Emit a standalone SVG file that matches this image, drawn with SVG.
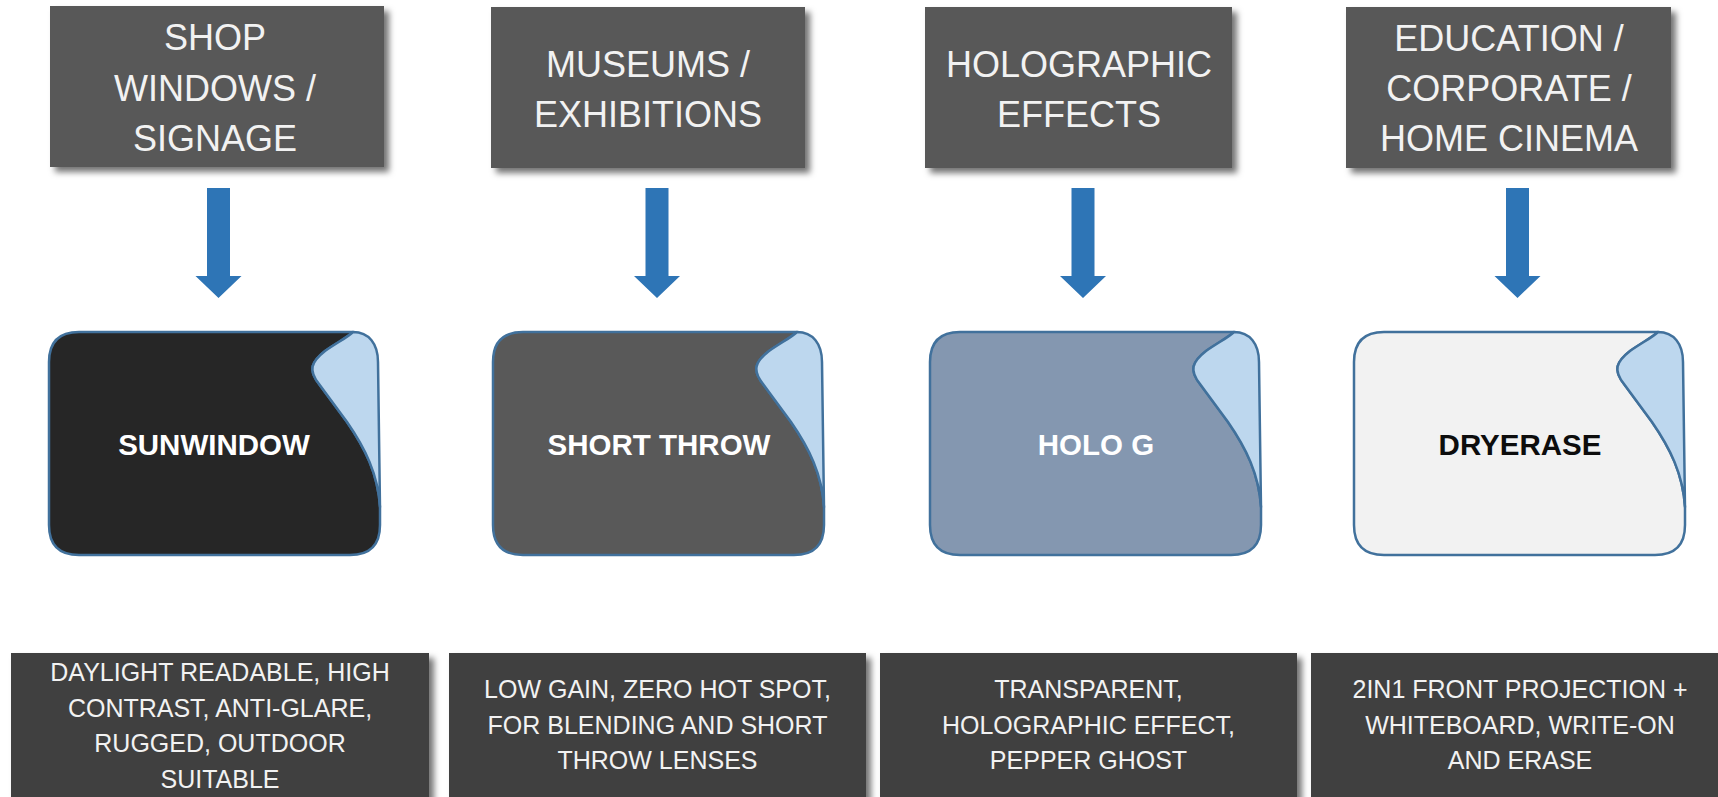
<svg xmlns="http://www.w3.org/2000/svg" width="1718" height="797" viewBox="0 0 1718 797">
<defs>
<filter id="sh" x="-10%" y="-10%" width="125%" height="130%">
<feDropShadow dx="5" dy="5" stdDeviation="3" flood-color="#000" flood-opacity="0.55"/>
</filter>
<g id="arrow"><path d="M-11.5,0 H11.5 V88 H23 L0,110 L-23,88 H-11.5 Z" fill="#2e75b6"/></g>
</defs>
<style>
.top{fill:#595959;filter:url(#sh)}
.bot{fill:#404040;filter:url(#sh)}
.tt{font-family:"Liberation Sans",Arial,sans-serif;font-size:36px;fill:#f2f2f2;text-anchor:middle}
.bt{font-family:"Liberation Sans",Arial,sans-serif;font-size:25px;fill:#f2f2f2;text-anchor:middle}
.ct{font-family:"Liberation Sans",Arial,sans-serif;font-size:29.5px;font-weight:bold;text-anchor:middle}
.body{stroke:#41719c;stroke-width:2.5;stroke-linejoin:round}
.curl{fill:#bdd7ee;stroke:#41719c;stroke-width:2.5;stroke-linejoin:round}
</style>
<rect width="1718" height="797" fill="#fff"/>

<g id="top1"><rect class="top" x="50" y="6" width="334" height="161"/>
<text class="tt" x="215" y="50">SHOP</text><text class="tt" x="215" y="101">WINDOWS /</text><text class="tt" x="215" y="151">SIGNAGE</text></g>
<g id="top2"><rect class="top" x="491" y="7" width="314" height="161"/>
<text class="tt" x="648" y="77">MUSEUMS /</text><text class="tt" x="648" y="127">EXHIBITIONS</text></g>
<g id="top3"><rect class="top" x="925" y="7" width="307" height="161"/>
<text class="tt" x="1079" y="77">HOLOGRAPHIC</text><text class="tt" x="1079" y="127">EFFECTS</text></g>
<g id="top4"><rect class="top" x="1346" y="7" width="325" height="161"/>
<text class="tt" x="1509" y="51">EDUCATION /</text><text class="tt" x="1509" y="101">CORPORATE /</text><text class="tt" x="1509" y="151">HOME CINEMA</text></g>

<g id="connectors">
<use href="#arrow" x="218.5" y="188"/>
<use href="#arrow" x="657" y="188"/>
<use href="#arrow" x="1083" y="188"/>
<use href="#arrow" x="1517.5" y="188"/>
</g>

<g id="card1" transform="translate(49,332)">
<path class="body" fill="#262626" d="M30,0 H304 C299,5 289,10 276,19 C262,30 259,38 270,52 L298,90 C316,116 329,142 331,175 V193 Q331,223 301,223 H30 Q0,223 0,193 V30 Q0,0 30,0 Z"/>
<path class="curl" d="M304,0 C320,0 329,12 329,30 L331,175 C329,142 316,116 298,90 L270,52 C259,38 262,30 276,19 C289,10 299,5 304,0 Z"/>
<text class="ct" x="165" y="123" fill="#ffffff">SUNWINDOW</text></g>
<g id="card2" transform="translate(493,332)">
<path class="body" fill="#595959" d="M30,0 H304 C299,5 289,10 276,19 C262,30 259,38 270,52 L298,90 C316,116 329,142 331,175 V193 Q331,223 301,223 H30 Q0,223 0,193 V30 Q0,0 30,0 Z"/>
<path class="curl" d="M304,0 C320,0 329,12 329,30 L331,175 C329,142 316,116 298,90 L270,52 C259,38 262,30 276,19 C289,10 299,5 304,0 Z"/>
<text class="ct" x="166" y="123" fill="#ffffff">SHORT THROW</text></g>
<g id="card3" transform="translate(930,332)">
<path class="body" fill="#8497b0" d="M30,0 H304 C299,5 289,10 276,19 C262,30 259,38 270,52 L298,90 C316,116 329,142 331,175 V193 Q331,223 301,223 H30 Q0,223 0,193 V30 Q0,0 30,0 Z"/>
<path class="curl" d="M304,0 C320,0 329,12 329,30 L331,175 C329,142 316,116 298,90 L270,52 C259,38 262,30 276,19 C289,10 299,5 304,0 Z"/>
<text class="ct" x="166" y="123" fill="#ffffff">HOLO G</text></g>
<g id="card4" transform="translate(1354,332)">
<path class="body" fill="#f2f2f2" d="M30,0 H304 C299,5 289,10 276,19 C262,30 259,38 270,52 L298,90 C316,116 329,142 331,175 V193 Q331,223 301,223 H30 Q0,223 0,193 V30 Q0,0 30,0 Z"/>
<path class="curl" d="M304,0 C320,0 329,12 329,30 L331,175 C329,142 316,116 298,90 L270,52 C259,38 262,30 276,19 C289,10 299,5 304,0 Z"/>
<text class="ct" x="166" y="123" fill="#0d0d0d">DRYERASE</text></g>

<g id="desc1"><rect class="bot" x="11" y="653" width="418" height="160"/>
<text class="bt" x="220" y="681">DAYLIGHT READABLE, HIGH</text><text class="bt" x="220" y="716.5">CONTRAST, ANTI-GLARE,</text><text class="bt" x="220" y="752">RUGGED, OUTDOOR</text><text class="bt" x="220" y="787.5">SUITABLE</text></g>
<g id="desc2"><rect class="bot" x="449" y="653" width="417" height="160"/>
<text class="bt" x="657.5" y="698">LOW GAIN, ZERO HOT SPOT,</text><text class="bt" x="657.5" y="733.5">FOR BLENDING AND SHORT</text><text class="bt" x="657.5" y="769">THROW LENSES</text></g>
<g id="desc3"><rect class="bot" x="880" y="653" width="417" height="160"/>
<text class="bt" x="1088.5" y="698">TRANSPARENT,</text><text class="bt" x="1088.5" y="733.5">HOLOGRAPHIC EFFECT,</text><text class="bt" x="1088.5" y="769">PEPPER GHOST</text></g>
<g id="desc4"><rect class="bot" x="1311" y="653" width="417" height="160"/>
<text class="bt" x="1520" y="698">2IN1 FRONT PROJECTION +</text><text class="bt" x="1520" y="733.5">WHITEBOARD, WRITE-ON</text><text class="bt" x="1520" y="769">AND ERASE</text></g>
</svg>
